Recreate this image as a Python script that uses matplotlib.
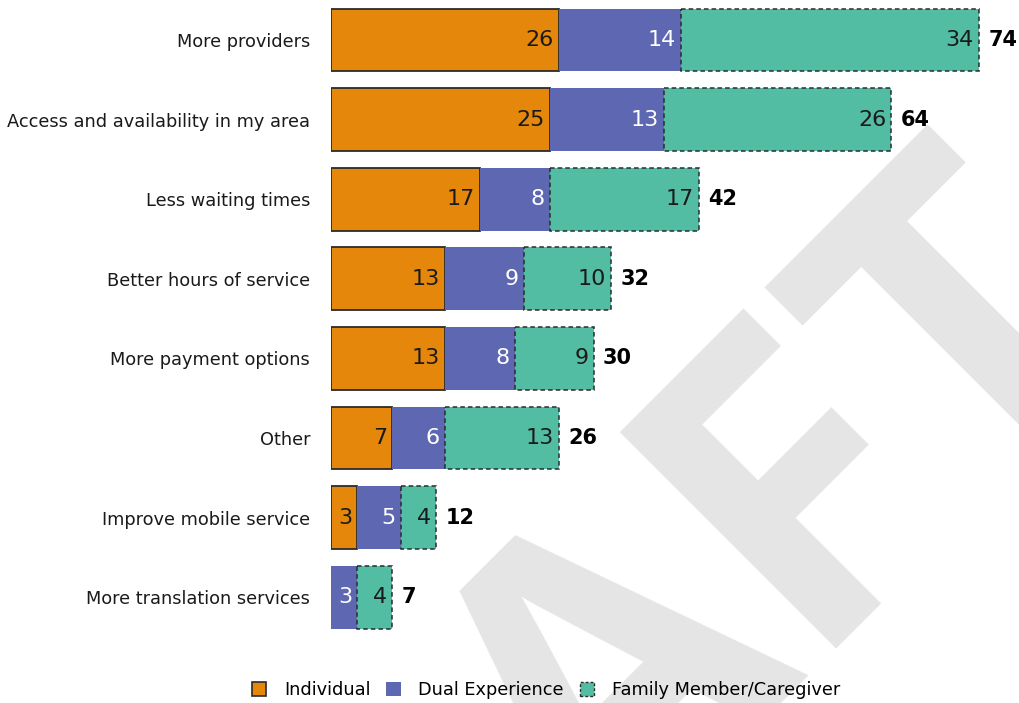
import matplotlib
matplotlib.use("Agg")
import matplotlib.pyplot as plt
from matplotlib.patches import Patch
import numpy as np

categories = [
    "More providers",
    "Access and availability in my area",
    "Less waiting times",
    "Better hours of service",
    "More payment options",
    "Other",
    "Improve mobile service",
    "More translation services",
]
individual = [26, 25, 17, 13, 13, 7, 3, 0]
dual_experience = [14, 13, 8, 9, 8, 6, 5, 3]
family_caregiver = [34, 26, 17, 10, 9, 13, 4, 4]
series_names = ["Individual", "Dual Experience", "Family Member/Caregiver"]

c_orange = "#E5870A"
c_blue = "#5E67B1"
c_teal = "#52BDA3"
edge = "#2b2b2b"
font = "DejaVu Sans"

plt.rcParams["font.family"] = [font]

W, H = 1019, 703
fig = plt.figure(figsize=(W / 100, H / 100), dpi=100)

# large diagonal watermark behind the chart
fig.text(1140 / W, 1 - 307 / H, "DRAFT", rotation=45, fontsize=308,
         color="#e5e5e5", fontweight="bold", family="Open Sans",
         ha="right", va="baseline", rotation_mode="anchor", zorder=0)

ax = fig.add_axes([331 / W, 1 - 637 / H, (W - 331) / W, 637 / H])
ax.patch.set_alpha(0)
ax.set_zorder(1)

y = np.arange(len(categories))
ind = np.array(individual)
dual = np.array(dual_experience)
fam = np.array(family_caregiver)
bh = 0.79

ax.barh(y, ind, height=bh, color=c_orange, edgecolor=edge, linewidth=1.3)
ax.barh(y, dual, left=ind, height=bh, color=c_blue, linewidth=0)
ax.barh(y, fam, left=ind + dual, height=bh, color=c_teal, edgecolor=edge,
        linewidth=1.1, linestyle=(0, (3, 2)))

pad = 0.6
for i in range(len(categories)):
    if ind[i] > 0:
        ax.text(ind[i] - pad, y[i], str(ind[i]), ha="right", va="center",
                fontsize=16, color="#1a1a1a")
    ax.text(ind[i] + dual[i] - pad, y[i], str(dual[i]), ha="right",
            va="center", fontsize=16, color="white")
    tot_end = ind[i] + dual[i] + fam[i]
    ax.text(tot_end - pad, y[i], str(fam[i]), ha="right", va="center",
            fontsize=16, color="#1a1a1a")
    ax.text(tot_end + 1.05, y[i], str(tot_end), ha="left", va="center",
            fontsize=15, fontweight="bold", color="black")

ax.set_xlim(0, (W - 331) / 8.757)
ax.set_ylim(7.5, -0.5025)
ax.set_yticks(y)
ax.set_yticklabels(categories, fontsize=12.8, color="#1a1a1a")
ax.tick_params(axis="y", length=0, pad=15)
ax.set_xticks([])
for s in ax.spines.values():
    s.set_visible(False)

handles = [
    Patch(facecolor=c_orange, edgecolor=edge, linewidth=1.2),
    Patch(facecolor=c_blue, edgecolor=c_blue, linewidth=0),
    Patch(facecolor=c_teal, edgecolor=edge, linewidth=1.0, linestyle=(0, (2, 1.5))),
]
fig.legend(handles, series_names, loc="center", bbox_to_anchor=(546 / W, 1 - 690 / H),
           ncol=3, frameon=False, fontsize=12.8, handlelength=0.8, handleheight=0.8,
           handletextpad=1.0, columnspacing=0.9)

fig.savefig("out.png", dpi=100)
